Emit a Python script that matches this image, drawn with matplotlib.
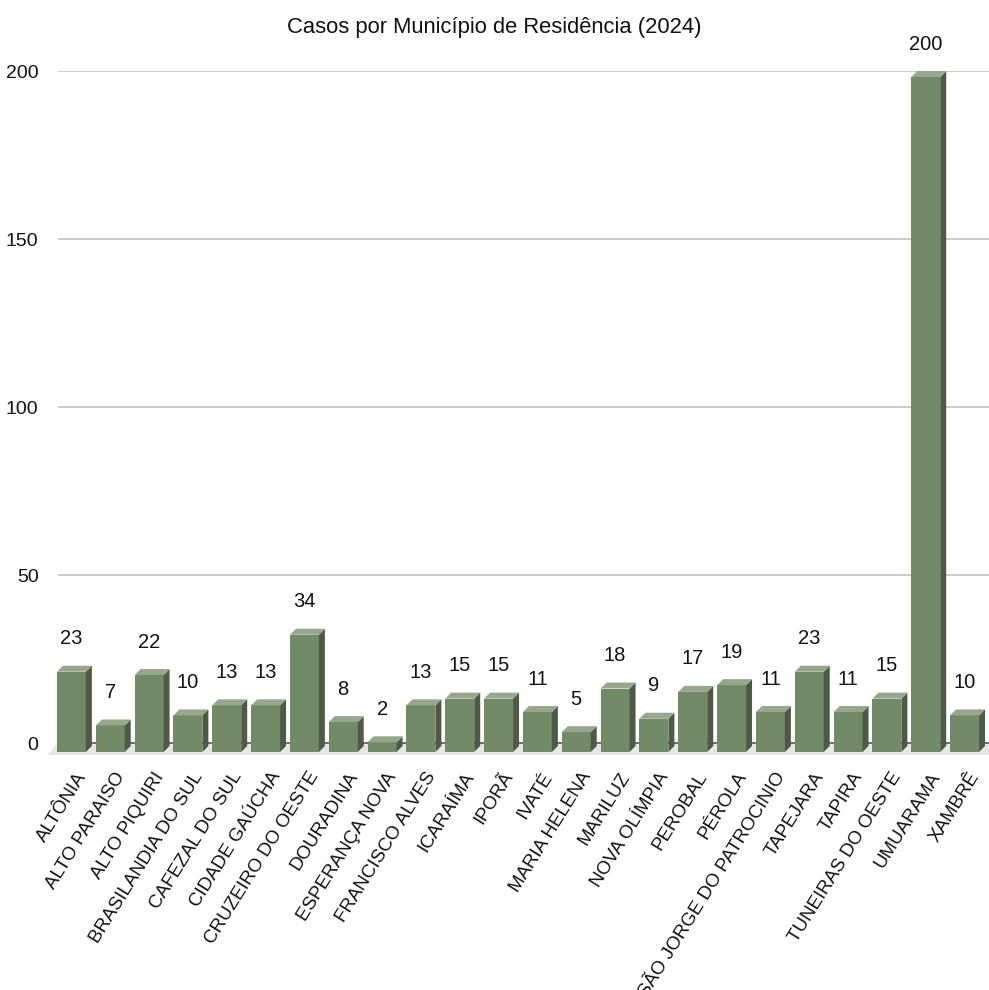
import matplotlib
matplotlib.use("Agg")
import matplotlib.pyplot as plt
from matplotlib.patches import Polygon
import matplotlib.transforms as mtransforms

plt.rcParams['font.family'] = ['Liberation Sans', 'DejaVu Sans']

categories = ["ALTÔNIA", "ALTO PARAISO", "ALTO PIQUIRI", "BRASILANDIA DO SUL",
              "CAFEZAL DO SUL", "CIDADE GAÚCHA", "CRUZEIRO DO OESTE", "DOURADINA",
              "ESPERANÇA NOVA", "FRANCISCO ALVES", "ICARAÍMA", "IPORÃ", "IVATÉ",
              "MARIA HELENA", "MARILUZ", "NOVA OLÍMPIA", "PEROBAL", "PÉROLA",
              "SÃO JORGE DO PATROCINIO", "TAPEJARA", "TAPIRA", "TUNEIRAS DO OESTE",
              "UMUARAMA", "XAMBRÊ"]
values = [23, 7, 22, 10, 13, 13, 34, 8, 2, 13, 15, 15, 11, 5, 18, 9, 17, 19,
          11, 23, 11, 15, 200, 10]
yticks = [0, 50, 100, 150, 200]
title = "Casos por Município de Residência (2024)"

W, H = 989, 990
fig = plt.figure(figsize=(W / 100, H / 100), dpi=100)
ax_left, ax_right, ax_top, ax_bot = 58, 990, 71, 743
ax = fig.add_axes([ax_left / W, 1 - ax_bot / H, (ax_right - ax_left) / W, (ax_bot - ax_top) / H])
n = len(categories)
ax.set_xlim(-0.5, n - 0.5)
ax.set_ylim(0, 200)

front_c = '#728a68'
top_c = '#97a78d'
side_c = '#4e5a46'

# pixel -> data conversions
ppx = (ax_right - ax_left) / n
ppy = (ax_bot - ax_top) / 200.0
dxp, dyp = 6, 6
ddx = dxp / ppx
ddy = dyp / ppy
bw = 0.745
bot_ext = 9 / ppy

# gridlines
for t in yticks[1:]:
    ax.axhline(t, color='#c8c8c8', lw=1.3, zorder=0)

# floor
floor = Polygon([(-0.5, 0), (n - 0.5 + 1, 0), (n - 0.5 + 1, -12 / ppy),
                 (-0.5 - 10 / ppx, -12 / ppy)], closed=True, facecolor='#e6e6e6',
                edgecolor='none', clip_on=False, zorder=1)
ax.add_patch(floor)
ax.plot([-0.5, n - 0.5 + 1], [0, 0], color='#555555', lw=1.2, clip_on=False, zorder=1.5)

for i, v in enumerate(values):
    xl = i - bw / 2 - ddx
    xr = i + bw / 2 - ddx
    yt = v - ddy
    yb = -bot_ext
    ax.add_patch(Polygon([(xl, yb), (xr, yb), (xr, yt), (xl, yt)], closed=True,
                         facecolor=front_c, edgecolor='none', clip_on=False, zorder=2))
    ax.add_patch(Polygon([(xr, yb), (xr + ddx, yb + ddy), (xr + ddx, yt + ddy), (xr, yt)],
                         closed=True, facecolor=side_c, edgecolor='none', clip_on=False, zorder=2))
    ax.add_patch(Polygon([(xl, yt), (xr, yt), (xr + ddx, yt + ddy), (xl + ddx, yt + ddy)],
                         closed=True, facecolor=top_c, edgecolor='none', clip_on=False, zorder=2))
    ax.annotate(str(v), xy=(i - ddx, v), xytext=(0, 27 * 0.72), textcoords='offset points',
                ha='center', va='center', fontsize=14.5, color='#111111', annotation_clip=False)

for s in ax.spines.values():
    s.set_visible(False)
ax.set_yticks(yticks)
ax.set_yticklabels([str(t) for t in yticks], fontsize=14, color='#111111')
ax.tick_params(axis='y', length=0, pad=14)
ax.set_xticks(range(n))
ax.set_xticklabels(categories, fontsize=13.5, color='#111111')
ax.tick_params(axis='x', length=0, pad=22)
offset = mtransforms.ScaledTranslation(5 / 100, 0, fig.dpi_scale_trans)
for lab in ax.get_xticklabels():
    lab.set_rotation(58)
    lab.set_ha('right')
    lab.set_va('center')
    lab.set_rotation_mode('anchor')
    lab.set_transform(lab.get_transform() + offset)

fig.text(0.5, 1 - 27 / H, title, ha='center', va='center', fontsize=15.8, color='#111111')
fig.savefig('out.png', dpi=100, facecolor='white')
